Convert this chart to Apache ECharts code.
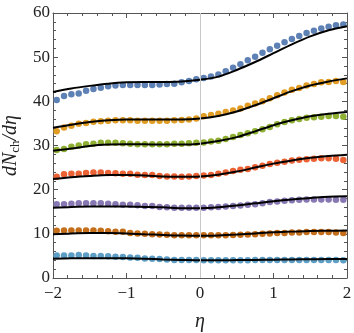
<!DOCTYPE html>
<html>
<head>
<meta charset="utf-8">
<script src="https://cdn.jsdelivr.net/npm/echarts@6/dist/echarts.min.js"></script>
<style>
  html, body { margin: 0; padding: 0; background: #fff; }
  #dndeta { width: 354px; height: 333px; }
</style>
</head>
<body>
<div id="dndeta"></div>
<script>
// eta of the data points (bin centres) and of the model curve samples
const etaPts = [-1.95, -1.85, -1.75, -1.65, -1.55, -1.45, -1.35, -1.25, -1.15, -1.05,
  -0.95, -0.85, -0.75, -0.65, -0.55, -0.45, -0.35, -0.25, -0.15, -0.05,
  0.05, 0.15, 0.25, 0.35, 0.45, 0.55, 0.65, 0.75, 0.85, 0.95,
  1.05, 1.15, 1.25, 1.35, 1.45, 1.55, 1.65, 1.75, 1.85, 1.95]
const etaFit = [-2, -1.75, -1.5, -1.25, -1, -0.75, -0.5, -0.25, 0, 0.25, 0.5, 0.75, 1, 1.25, 1.5, 1.75, 2]

// measured dN/deta, one array per class (top to bottom)
const blueData = [40.3, 41.2, 41.6, 41.8, 42.4, 42.8, 43.1, 43.4, 43.6, 43.7, 43.7, 43.7, 43.7, 43.7, 43.8, 43.9, 44.0, 44.3, 44.6, 45.0,
  45.3, 45.6, 46.1, 46.8, 47.6, 48.4, 49.3, 50.1, 51.0, 51.8, 52.6, 53.4, 54.1, 54.8, 55.5, 56.0, 56.5, 56.9, 57.2, 57.4]
const orangeData = [33.2, 34.1, 34.5, 34.9, 35.1, 35.4, 35.5, 35.6, 35.7, 35.7, 35.7, 35.6, 35.6, 35.6, 35.6, 35.6, 35.7, 35.8, 35.9, 36.1,
  36.6, 36.9, 37.2, 37.6, 37.9, 38.4, 39.0, 39.5, 40.0, 40.7, 41.4, 42.0, 42.6, 43.0, 43.6, 43.9, 44.3, 44.4, 44.6, 44.4]
const greenData = [29.0, 29.2, 29.7, 30.0, 30.3, 30.4, 30.6, 30.6, 30.6, 30.5, 30.4, 30.3, 30.3, 30.3, 30.3, 30.3, 30.4, 30.4, 30.5, 30.6,
  30.7, 30.9, 31.1, 31.5, 31.9, 32.4, 32.8, 33.2, 33.7, 34.2, 34.8, 35.3, 35.7, 36.0, 36.3, 36.4, 36.5, 36.7, 36.7, 36.5]
const redData = [22.9, 23.5, 23.6, 23.6, 23.8, 23.9, 23.9, 23.8, 23.7, 23.6, 23.6, 23.4, 23.3, 23.3, 23.1, 23.0, 23.0, 22.9, 23.0, 23.1,
  23.2, 23.3, 23.6, 23.9, 24.2, 24.5, 24.7, 25.1, 25.4, 25.8, 26.1, 26.3, 26.6, 26.8, 26.9, 27.0, 27.1, 27.1, 27.0, 26.7]
const purpleData = [16.7, 16.7, 16.8, 16.9, 16.9, 16.9, 16.9, 16.8, 16.7, 16.6, 16.6, 16.5, 16.3, 16.3, 16.1, 16.0, 15.9, 15.9, 15.9, 15.9,
  15.9, 16.0, 16.1, 16.2, 16.3, 16.4, 16.6, 16.7, 16.9, 17.2, 17.3, 17.5, 17.6, 17.7, 17.8, 17.8, 17.8, 17.8, 17.7, 17.7]
const brownData = [10.7, 10.75, 10.75, 10.75, 10.75, 10.75, 10.7, 10.6, 10.5, 10.5, 10.2, 10.1, 10.0, 9.9, 9.85, 9.8, 9.7, 9.7, 9.7, 9.7,
  9.7, 9.7, 9.7, 9.7, 9.75, 9.8, 9.85, 9.9, 10.0, 10.1, 10.2, 10.2, 10.3, 10.3, 10.4, 10.4, 10.4, 10.4, 10.3, 10.2]
const skyData = [5.1, 5.1, 5.1, 5.2, 5.1, 5.0, 4.97, 4.9, 4.8, 4.75, 4.65, 4.6, 4.4, 4.35, 4.3, 4.2, 4.1, 4.05, 4.05, 4.05,
  4.0, 4.0, 4.0, 4.0, 4.0, 4.0, 4.0, 4.05, 4.05, 4.05, 4.1, 4.1, 4.1, 4.1, 4.1, 4.1, 4.1, 4.1, 4.05, 4.0]

// model curves
const blueFit = [42.1, 42.9, 43.5, 44.0, 44.3, 44.4, 44.4, 44.5, 44.9, 45.6, 47.1, 48.9, 50.9, 52.9, 54.7, 56.1, 57.0]
const orangeFit = [34.0, 34.7, 35.3, 35.7, 35.9, 35.9, 35.9, 35.9, 36.1, 36.7, 37.7, 39.1, 40.7, 42.3, 43.6, 44.5, 45.2]
const greenFit = [28.8, 29.3, 29.9, 30.2, 30.3, 30.3, 30.2, 30.2, 30.4, 31.0, 31.9, 33.2, 34.6, 35.7, 36.6, 37.2, 37.6]
const redFit = [22.4, 22.8, 23.1, 23.3, 23.3, 23.2, 23.0, 22.9, 23.0, 23.4, 24.1, 25.0, 25.9, 26.6, 27.2, 27.6, 27.9]
const purpleFit = [15.9, 16.1, 16.2, 16.2, 16.2, 16.1, 16.0, 15.8, 15.8, 16.0, 16.4, 16.9, 17.4, 17.8, 18.1, 18.4, 18.5]
const brownFit = [9.9, 10.1, 10.2, 10.2, 10.1, 9.9, 9.75, 9.6, 9.55, 9.65, 9.85, 10.1, 10.35, 10.5, 10.65, 10.7, 10.75]
const skyFit = [4.35, 4.45, 4.5, 4.5, 4.45, 4.35, 4.2, 4.1, 4.0, 4.0, 4.05, 4.1, 4.15, 4.2, 4.25, 4.3, 4.3]

const xTicks = [-2, -1, 0, 1, 2]
const yTicks = [0, 10, 20, 30, 40, 50, 60]

const dataSets = [blueData, orangeData, greenData, redData, purpleData, brownData, skyData]
const fitSets = [blueFit, orangeFit, greenFit, redFit, purpleFit, brownFit, skyFit]
const colors = ['#5e81b5', '#e19c24', '#8fb032', '#eb6235', '#8778b3', '#c56e1a', '#5d9ec7']

const frameColor = '#555'
const serif = 'Liberation Serif'

function pair(xs, ys) {
  return xs.map((x, i) => [x, ys[i]])
}
function minus(v) {
  return String(v).replace('-', '\u2212')
}

let series = []
// grey line at eta = 0
series.push({
  type: 'line',
  data: [],
  silent: true,
  z: 1,
  markLine: {
    symbol: 'none',
    silent: true,
    label: { show: false },
    lineStyle: { color: '#c8c8c8', width: 1, type: 'solid' },
    data: [{ xAxis: 0 }]
  }
})
for (let i = 0; i < dataSets.length; i++) {
  series.push({
    type: 'scatter',
    data: pair(etaPts, dataSets[i]),
    symbolSize: 6.5,
    itemStyle: { color: colors[i], opacity: 1 },
    z: 2
  })
}
for (let i = 0; i < fitSets.length; i++) {
  series.push({
    type: 'line',
    data: pair(etaFit, fitSets[i]),
    smooth: 0.3,
    showSymbol: false,
    lineStyle: { color: '#000', width: 2 },
    z: 3
  })
}

const baseX = {
  type: 'value', min: -2, max: 2, interval: 1,
  axisLine: { show: true, onZero: false, lineStyle: { color: frameColor, width: 1 } },
  axisTick: { show: true, inside: true, length: 5, lineStyle: { color: frameColor } },
  minorTick: { show: true, splitNumber: 5, length: 3, lineStyle: { color: frameColor } },
  splitLine: { show: false }
}
const baseY = {
  type: 'value', min: 0, max: 60, interval: 10,
  axisLine: { show: true, onZero: false, lineStyle: { color: frameColor, width: 1 } },
  axisTick: { show: true, inside: true, length: 5, lineStyle: { color: frameColor } },
  minorTick: { show: true, splitNumber: 5, length: 3, lineStyle: { color: frameColor } },
  splitLine: { show: false }
}

let myChart = echarts.init(document.getElementById('dndeta'), null, { renderer: 'canvas' })
let option = {
  animation: false,
  backgroundColor: '#fff',
  grid: { left: 53, right: 7, top: 13, bottom: 55, outerBoundsMode: 'none' },
  xAxis: [
    Object.assign({}, baseX, {
      position: 'bottom',
      name: '\u03b7',
      nameLocation: 'middle',
      nameGap: 34,
      nameTextStyle: { fontFamily: serif, fontStyle: 'italic', fontSize: 20, color: '#222' },
      axisLabel: {
        margin: 7, fontFamily: serif, fontSize: 17, color: '#222',
        customValues: xTicks,
        formatter: minus
      }
    }),
    Object.assign({}, baseX, { position: 'top', axisLabel: { show: false } })
  ],
  yAxis: [
    Object.assign({}, baseY, {
      position: 'left',
      name: '{i|dN}{s|ch}{i|/d\u03b7}',
      nameLocation: 'middle',
      nameRotate: 90,
      nameGap: 31,
      nameTextStyle: {
        rich: {
          i: { fontFamily: serif, fontStyle: 'italic', fontSize: 20, color: '#222' },
          s: { fontFamily: serif, fontSize: 13, color: '#222', padding: [9, 0, 0, 0] }
        }
      },
      axisLabel: {
        margin: 3, fontFamily: serif, fontSize: 17, color: '#222',
        customValues: yTicks,
        formatter: minus
      }
    }),
    Object.assign({}, baseY, { position: 'right', axisLabel: { show: false } })
  ],
  series: series
}
myChart.setOption(option)
</script>
</body>
</html>
